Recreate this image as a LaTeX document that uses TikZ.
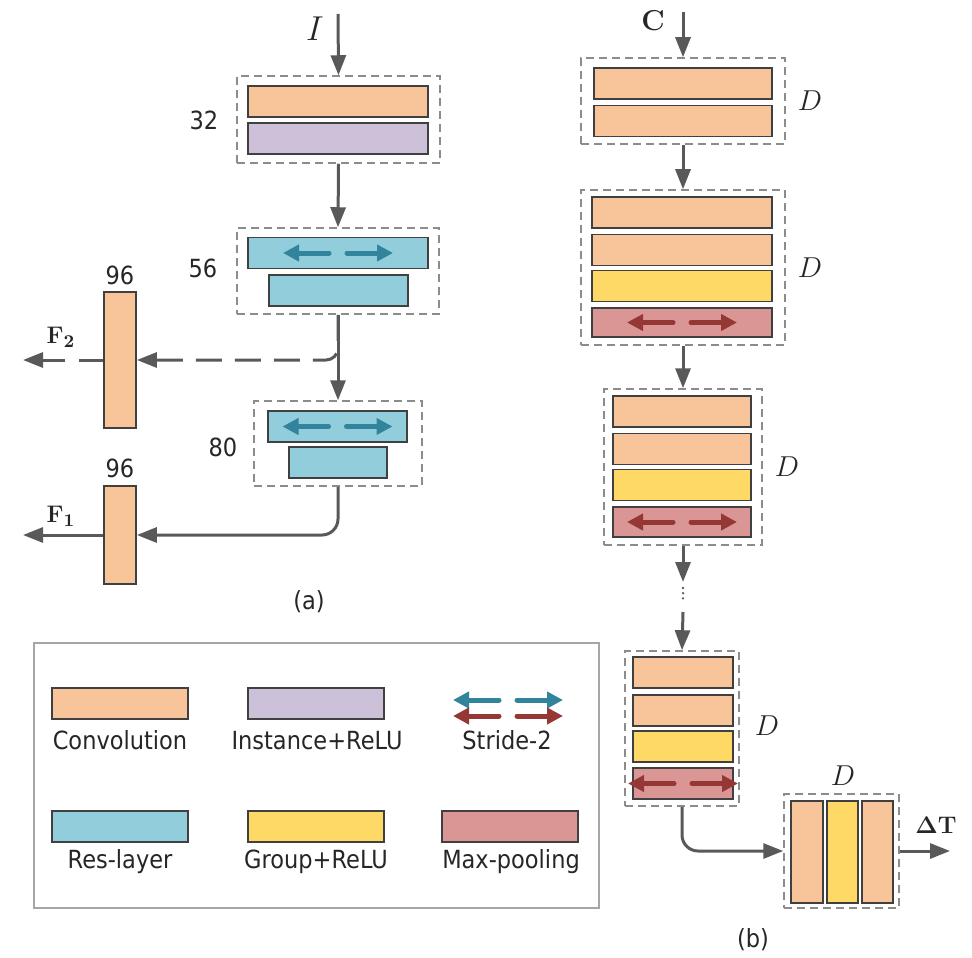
\documentclass[tikz,border=0pt]{standalone}
\usepackage[no-math]{fontspec}
\usepackage{amsmath}
\setmainfont{DejaVu Sans}[FakeStretch=0.9]
\usetikzlibrary{arrows.meta}

\definecolor{convcol}{HTML}{F8C49A}
\definecolor{instcol}{HTML}{CCC1D9}
\definecolor{rescol}{HTML}{92CDDC}
\definecolor{groupcol}{HTML}{FFD966}
\definecolor{poolcol}{HTML}{D99694}
\definecolor{tealarr}{HTML}{31849B}
\definecolor{redarr}{HTML}{953735}
\definecolor{linecol}{HTML}{595959}
\definecolor{edgecol}{HTML}{404040}
\definecolor{dashcol}{HTML}{8C8C8C}
\definecolor{txtcol}{HTML}{262626}

\tikzset{
  layer/.style={draw=edgecol, line width=0.9pt, inner sep=0pt, minimum width=#1, minimum height=15.5pt},
  conv/.style={layer=#1, fill=convcol},
  inst/.style={layer=#1, fill=instcol},
  res/.style={layer=#1, fill=rescol},
  gnorm/.style={layer=#1, fill=groupcol},
  pool/.style={layer=#1, fill=poolcol},
  group/.style={draw=dashcol, line width=0.75pt, dash pattern=on 4pt off 2.5pt, inner sep=0pt},
  arr/.style={draw=linecol, line width=1.5pt, -{Triangle[length=10pt,width=7.5pt]}},
  dasharr/.style={arr, dash pattern=on 13pt off 6.5pt},
  stridearr/.style={draw=#1, line width=2.5pt, line cap=round, -{Triangle[length=8pt,width=8pt]}},
  lbl/.style={inner sep=0pt, text=txtcol},
  mlbl/.style={lbl, font=\fontsize{14pt}{16pt}\selectfont},
}

% two stride arrows inside a layer
\newcommand\stridepair[2]{%
  \draw[stridearr=#2] ([xshift=-4.5pt]#1.center) -- ([xshift=-27.5pt]#1.center);
  \draw[stridearr=#2] ([xshift=4.5pt]#1.center) -- ([xshift=27.5pt]#1.center);
}

\begin{document}
\begin{tikzpicture}[x=0.5pt, y=-0.5pt, font=\fontsize{12.5pt}{15pt}\selectfont]
  \useasboundingbox (0,0) rectangle (972,957);

  % (a) Block 32 (conv + instance)
  \node[group, minimum width=101.5pt, minimum height=43.5pt] (g32) at (338.5,119.5) {};
  \node[conv=90pt] (a1) at (338,101.5) {};
  \node[inst=90pt] (a2) at (338,138.5) {};
  \node[lbl] (n32) at (204,120) {32};

  % (a) Block 56 (res-layers)
  \node[group, minimum width=101pt, minimum height=43pt] (g56) at (338,271) {};
  \node[res=90pt] (b1) at (338,253) {};
  \node[res=69.5pt] (b2) at (338.5,290.5) {};
  \stridepair{b1}{tealarr}
  \node[lbl] (n56) at (203,268) {56};

  % (a) Block 80 (res-layers)
  \node[group, minimum width=84pt, minimum height=42.5pt] (g80) at (338,443.5) {};
  \node[res=69.5pt] (c1) at (337.5,426.5) {};
  \node[res=49pt] (c2) at (338,462.5) {};
  \stridepair{c1}{tealarr}
  \node[lbl] (n80) at (223,447) {80};

  % (a) output convolutions
  \node[conv=16pt, minimum height=68pt] (f2) at (120,360) {};
  \node[conv=16pt, minimum height=49pt] (f1) at (120,535) {};
  \node[lbl] (n96a) at (120,275) {96};
  \node[lbl] (n96b) at (120,468) {96};

  % (a) connectors
  \coordinate (inI) at (338,14);
  \coordinate (outF2) at (23,360);
  \coordinate (outF1) at (23,535);
  \node[lbl, font=\fontsize{17pt}{19pt}\selectfont] (lI) at (315,29) {$I$};
  \draw[arr] (inI) -- (g32.north);
  \draw[arr] (g32.south) -- (g56.north);
  \draw[dasharr, rounded corners=6pt] (g56.south) |- (f2.east);
  \draw[arr] (g56.south) -- (g80.north);
  \draw[arr, rounded corners=8pt] (g80.south) |- (f1.east);
  \draw[dasharr, dash pattern=on 12pt off 7pt] (f2.west) -- (outF2);
  \draw[arr] (f1.west) -- (outF1);
  \node[lbl] (lF2) at (61,337) {$\mathbf{F}_{\mathbf{2}}$};
  \node[lbl] (lF1) at (61,516) {$\mathbf{F}_{\mathbf{1}}$};
  \node[lbl] (capa) at (309,602) {(a)};

  % (b) Block 1 (two convs)
  \node[group, minimum width=102pt, minimum height=43pt] (gb1) at (683,101) {};
  \node[conv=89pt] (d1) at (683,83.5) {};
  \node[conv=89pt] (d2) at (683,121) {};
  \node[mlbl] (D1) at (810,101) {$D$};

  % (b) Block 2
  \node[group, minimum width=102pt, minimum height=77.5pt] (gb2) at (683,267.5) {};
  \node[conv=90pt] (e1) at (682,212.5) {};
  \node[conv=90pt] (e2) at (682,250) {};
  \node[gnorm=90pt] (e3) at (682,286) {};
  \node[pool=90pt, minimum height=14.5pt] (e4) at (682,322.5) {};
  \stridepair{e4}{redarr}
  \node[mlbl] (D2) at (810,268) {$D$};

  % (b) Block 3
  \node[group, minimum width=79pt, minimum height=78pt] (gb3) at (683,467) {};
  \node[conv=69pt] (h1) at (682,411.5) {};
  \node[conv=69pt] (h2) at (682,449) {};
  \node[gnorm=69pt] (h3) at (682,485) {};
  \node[pool=69pt, minimum height=15pt] (h4) at (682,522) {};
  \stridepair{h4}{redarr}
  \node[mlbl] (D3) at (787,467) {$D$};

  % (b) Block 4
  \node[group, minimum width=57pt, minimum height=77.5pt] (gb4) at (682,728.5) {};
  \node[conv=50pt] (k1) at (683,672.5) {};
  \node[conv=50pt] (k2) at (683,710.5) {};
  \node[gnorm=50pt] (k3) at (683,746.5) {};
  \node[pool=50pt] (k4) at (683,783.5) {};
  \stridepair{k4}{redarr}
  \node[mlbl] (D4) at (767,726) {$D$};

  % (b) Block 5 (vertical layers)
  \node[group, minimum width=57.5pt, minimum height=57pt] (gb5) at (841.5,851) {};
  \node[conv=16pt, minimum height=51pt] (m1) at (807,852) {};
  \node[gnorm=15.5pt, minimum height=51pt] (m2) at (842.5,852) {};
  \node[conv=15.5pt, minimum height=51pt] (m3) at (877.5,852) {};
  \node[mlbl] (D5) at (843,776) {$D$};

  % (b) connectors
  \coordinate (inC) at (683,12);
  \coordinate (dotA) at (683,582);
  \coordinate (dotB) at (683,612);
  \coordinate (outT) at (950,851);
  \node[mlbl] (lC) at (653,21) {$\mathbf{C}$};
  \draw[arr] (inC) -- (gb1.north);
  \draw[arr] (gb1.south) -- (gb2.north);
  \draw[arr] (gb2.south) -- (gb3.north);
  \draw[arr] (gb3.south) -- (dotA);
  \draw[linecol, line width=1.3pt, line cap=round, dash pattern=on 0pt off 2.6pt] ([yshift=-3pt]dotA) -- ([yshift=4.5pt]dotB);
  \draw[arr] (dotB) -- (gb4.north);
  \draw[arr, rounded corners=8pt] (gb4.south) |- (gb5.west);
  \draw[arr] (gb5.east) -- (outT);
  \node[lbl, font=\fontsize{13pt}{15pt}\selectfont] (lT) at (936,825) {$\mathbf{\Delta T}$};
  \node[lbl] (capb) at (753,940) {(b)};

  % Legend
  \node[draw=black!35, line width=0.75pt, minimum width=282.5pt, minimum height=132.5pt] (legend) at (316.5,775.5) {};
  \node[conv=68pt] (lconv) at (120,703.5) {};
  \node[inst=68pt] (linst) at (316,703.5) {};
  \node[res=68pt] (lres) at (120,826.5) {};
  \node[gnorm=68pt] (lgn) at (316,826.5) {};
  \node[pool=68pt] (lpool) at (510,826.5) {};
  \coordinate (strideT) at (508,700);
  \coordinate (strideR) at (508,716);
  \stridepair{strideT}{tealarr}
  \stridepair{strideR}{redarr}
  \node[lbl, anchor=base] (tconv) at (120,749) {Convolution};
  \node[lbl, anchor=base] (tinst) at (317,749) {Instance+ReLU};
  \node[lbl, anchor=base] (tstride) at (507,749) {Stride-2};
  \node[lbl, anchor=base] (tres) at (120,868) {Res-layer};
  \node[lbl, anchor=base] (tgn) at (316,868) {Group+ReLU};
  \node[lbl, anchor=base] (tpool) at (511,868) {Max-pooling};
\end{tikzpicture}
\end{document}
